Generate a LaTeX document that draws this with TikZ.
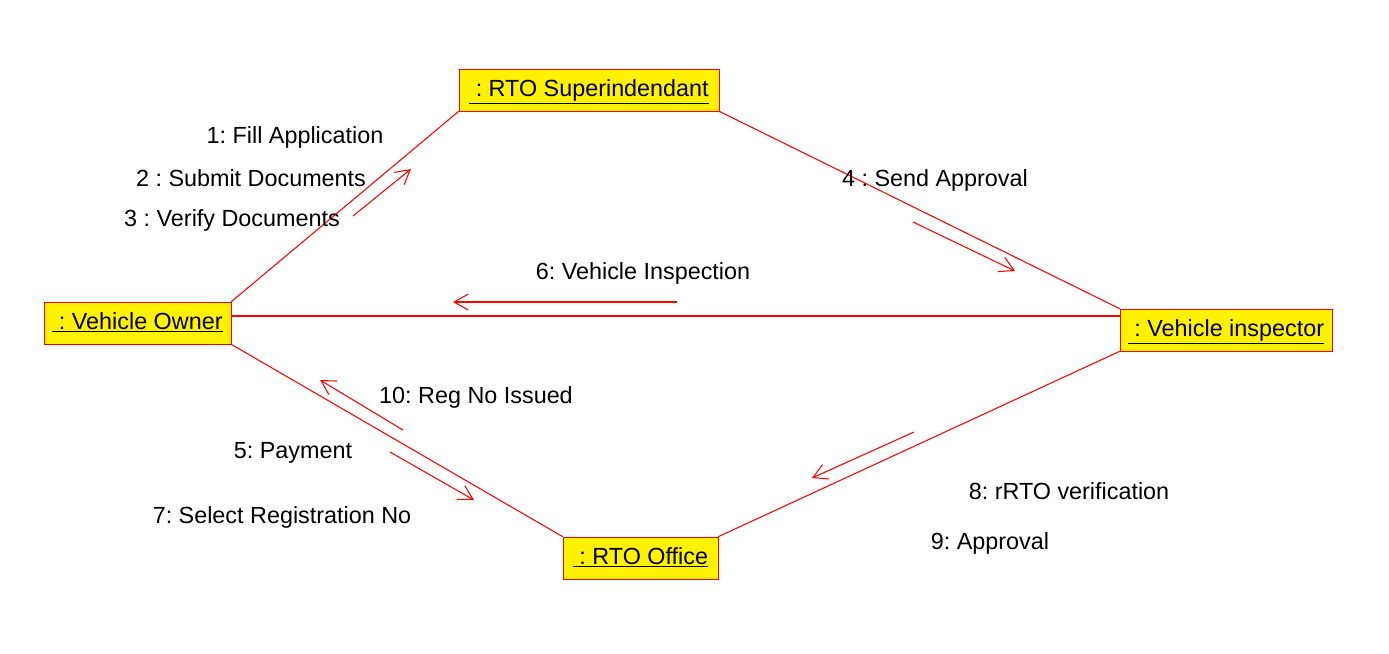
\documentclass[tikz,border=0pt]{standalone}
\usepackage{fontspec}
\setmainfont{Liberation Sans}
\usepackage{tikz}
\usetikzlibrary{arrows.meta, positioning}
\frenchspacing

\begin{document}
\begin{tikzpicture}[x=0.02cm, y=-0.02cm,
        every node/.style={font=\fontsize{13.3}{16}\selectfont},
        obj/.style={draw=red, fill=yellow, inner sep=0pt, minimum height=0.84cm, text depth=0.5ex},
        link/.style={red, line width=0.6pt},
        msgarrow/.style={red, line width=0.6pt, -{Straight Barb[length=8pt,width=9pt]}}]
    \useasboundingbox (0,0) rectangle (1389,653);
    % objects
    \node[obj, minimum width=5.2cm]  (super) at (589,90)    {\underline{\ : RTO Superindendant}};
    \node[obj, minimum width=3.74cm] (owner) at (137.5,323) {\underline{\ : Vehicle Owner}};
    \node[obj, minimum width=4.24cm] (insp)  at (1226,330)  {\underline{\ : Vehicle inspector}};
    \node[obj, minimum width=3.1cm]  (office) at (640.5,558) {\underline{\ : RTO Office}};
    % links
    \draw[link] (owner.north east) -- (super.south west);
    \draw[link] (super.south east) -- (insp.north west);
    \draw[link] ([yshift=0.14cm]owner.east) -- ([yshift=0.14cm]owner.east -| insp.west);
    \draw[link] (owner.south east) -- (office.north west);
    \draw[link] (office.north east) -- (insp.south west);
    % messages
    \coordinate (a1) at (353,216); \coordinate (b1) at (411,169);
    \coordinate (a4) at (913,222); \coordinate (b4) at (1015,271);
    \coordinate (a6) at (677,302); \coordinate (b6) at (453,302);
    \coordinate (a10) at (403,430); \coordinate (b10) at (320,380);
    \coordinate (a5) at (390,452); \coordinate (b5) at (474,500);
    \coordinate (a8) at (914,432); \coordinate (b8) at (812,478);
    \foreach \m in {1,4,6,10,5,8}
        \draw[msgarrow] (a\m) -- (b\m);
    \node (fill)    at (295,137)  {1: Fill Application};
    \node (submit)  at (251,178)  {2 : Submit Documents};
    \node (verify)  at (232,220)  {3 : Verify Documents};
    \node (approve) at (935,180)  {4 : Send Approval};
    \node (inspect) at (643,273)  {6: Vehicle Inspection};
    \node (regno)   at (476,397)  {10: Reg No Issued};
    \node (pay)     at (293,453)  {5: Payment};
    \node (select)  at (282,517)  {7: Select Registration No};
    \node (rrto)    at (1069,491) {8: rRTO verification};
    \node (appr)    at (990,543)  {9: Approval};
\end{tikzpicture}
\end{document}
